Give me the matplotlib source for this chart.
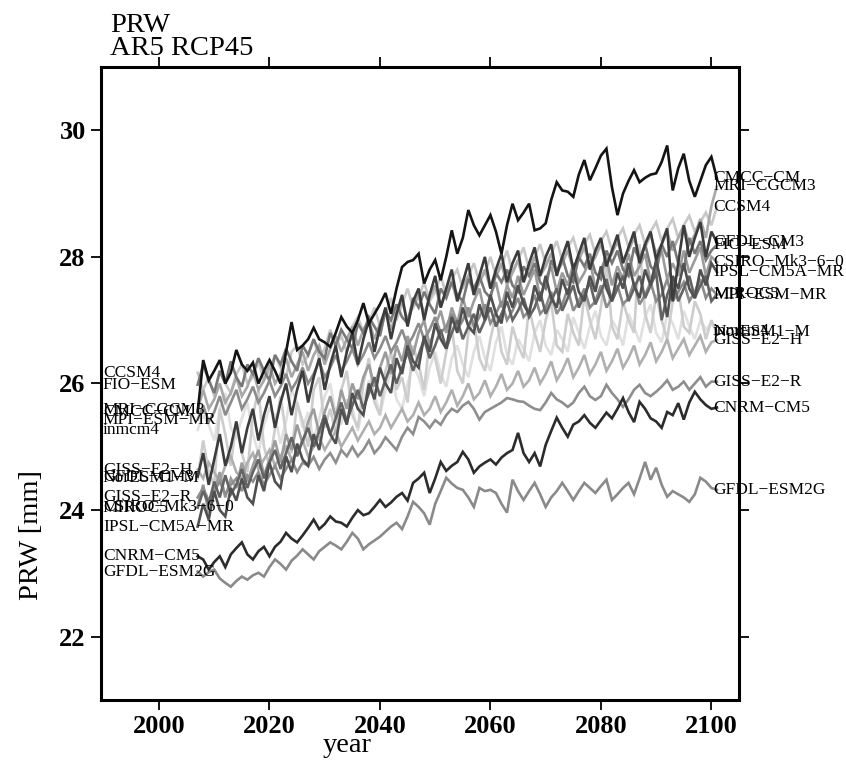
import numpy as np
import matplotlib
matplotlib.use("Agg")
import matplotlib.pyplot as plt

first_year = 2007

models = ["CMCC-CM", "MRI-CGCM3", "CCSM4", "GFDL-CM3", "FIO-ESM", "CSIRO-Mk3-6-0",
          "IPSL-CM5A-MR", "MIROC5", "MPI-ESM-MR", "inmcm4", "NorESM1-M", "GISS-E2-H",
          "GISS-E2-R", "CNRM-CM5", "GFDL-ESM2G"]

cmcc_cm = [25.55, 26.37, 26.05, 26.2, 26.37, 26.0, 26.17, 26.53, 26.3, 26.2,
           26.33, 26.0, 26.2, 26.37, 26.2, 26.0, 26.5, 26.97, 26.53, 26.6,
           26.7, 26.88, 26.7, 26.65, 26.58, 26.8, 27.05, 26.9, 26.8, 27.0,
           27.27, 26.95, 27.1, 27.25, 27.43, 27.1, 27.5, 27.84, 27.92, 27.95,
           28.05, 27.58, 27.8, 27.95, 27.63, 28.0, 28.42, 28.05, 28.3, 28.74,
           28.5, 28.34, 28.5, 28.66, 28.4, 28.05, 28.5, 28.84, 28.58, 28.7,
           28.84, 28.42, 28.45, 28.53, 28.9, 29.18, 29.05, 29.03, 28.95, 29.3,
           29.53, 29.21, 29.4, 29.6, 29.71, 29.1, 28.66, 29.0, 29.2, 29.37,
           29.18, 29.25, 29.3, 29.32, 29.5, 29.76, 29.05, 29.4, 29.63, 29.2,
           28.95, 29.2, 29.45, 29.58, 29.24]

mri_cgcm3 = [25.58, 25.9, 25.6, 25.75, 26.0, 25.7, 25.85, 26.1, 25.8, 25.95,
             26.2, 25.9, 26.05, 26.3, 26.0, 26.15, 26.4, 26.1, 26.3, 26.5,
             26.2, 26.45, 26.6, 26.3, 26.55, 26.75, 26.5, 26.7, 26.9, 26.6,
             26.85, 27.0, 26.7, 26.95, 27.15, 26.85, 27.1, 27.3, 27.0, 27.25,
             27.4, 27.1, 27.35, 27.55, 27.2, 27.45, 27.6, 27.3, 27.55, 27.7,
             27.4, 27.6, 27.8, 27.5, 27.7, 27.9, 27.55, 27.75, 27.95, 27.6,
             27.8, 28.0, 27.7, 27.85, 28.05, 27.75, 27.9, 28.1, 27.8, 27.95,
             28.15, 27.85, 28.0, 28.2, 27.9, 28.05, 28.25, 27.95, 28.1, 28.3,
             28.0, 28.15, 28.35, 28.05, 28.2, 28.4, 28.1, 28.3, 28.5, 28.2,
             28.35, 28.6, 28.3, 28.8, 29.12]

ccsm4 = [26.17, 25.9, 26.1, 25.8, 26.2, 26.0, 25.85, 26.15, 26.3, 26.0,
         26.1, 26.35, 26.05, 26.2, 26.45, 26.25, 26.1, 26.5, 26.6, 26.3,
         26.45, 26.7, 26.4, 26.55, 26.85, 26.6, 26.75, 26.5, 26.9, 27.05,
         26.8, 26.95, 27.2, 26.9, 27.1, 27.35, 27.0, 27.25, 27.5, 27.2,
         27.35, 27.6, 27.3, 27.45, 27.7, 27.4, 27.65, 27.8, 27.5, 27.7,
         27.9, 27.6, 27.75, 28.0, 27.7, 27.85, 28.1, 27.75, 27.95, 28.15,
         27.8, 28.0, 28.2, 27.9, 28.05, 28.25, 27.95, 28.15, 28.3, 28.0,
         28.2, 28.35, 28.05, 28.25, 28.4, 28.1, 28.3, 28.45, 28.15, 28.35,
         28.5, 28.2, 28.4, 28.55, 28.25, 28.45, 28.6, 28.3, 28.5, 28.65,
         28.4, 28.55, 28.7, 28.5, 28.79]

gfdl_cm3 = [24.53, 24.9, 24.4, 24.8, 25.2, 24.7, 25.0, 25.4, 24.9, 25.3,
            25.6, 25.1, 25.5, 25.8, 25.3, 25.7, 26.0, 25.5, 25.9, 26.2,
            25.7, 26.1, 26.4, 25.9, 26.3, 26.6, 26.1, 26.5, 26.8, 26.3,
            26.7, 27.0, 26.5, 26.9, 27.2, 26.7, 27.1, 27.4, 26.9, 27.3,
            27.5, 27.0, 27.4, 27.7, 27.2, 27.5, 27.8, 27.3, 27.6, 27.9,
            27.4, 27.7, 28.0, 27.5, 27.8, 28.05, 27.6, 27.9, 28.1, 27.6,
            27.9, 28.15, 27.7, 28.0, 28.2, 27.7, 28.0, 28.25, 27.8, 28.05,
            28.3, 27.8, 28.1, 28.3, 27.85, 28.1, 28.35, 27.9, 28.15, 28.4,
            27.9, 28.2, 28.4, 27.95, 28.2, 28.45, 27.3, 27.9, 28.5, 28.0,
            28.3, 28.55, 28.0, 28.4, 28.23]

fio_esm = [25.98, 26.3, 26.05, 25.85, 26.2, 26.0, 26.35, 26.1, 25.95, 26.3,
           26.15, 26.4, 26.2, 26.05, 26.45, 26.3, 26.55, 26.35, 26.2, 26.6,
           26.45, 26.7, 26.5, 26.4, 26.8, 26.6, 26.85, 26.7, 26.55, 26.95,
           26.8, 27.05, 26.9, 26.75, 27.15, 27.0, 27.25, 27.05, 26.95, 27.35,
           27.2, 27.45, 27.25, 27.1, 27.5, 27.35, 27.6, 27.4, 27.3, 27.65,
           27.5, 27.7, 27.45, 27.35, 27.75, 27.6, 27.8, 27.55, 27.45, 27.85,
           27.7, 27.9, 27.6, 27.5, 27.95, 27.75, 28.0, 27.7, 27.6, 28.0,
           27.85, 28.05, 27.75, 27.65, 28.1, 27.9, 28.1, 27.8, 27.7, 28.15,
           27.95, 28.2, 27.85, 27.75, 28.2, 28.0, 28.25, 27.9, 27.8, 28.3,
           28.05, 28.25, 27.95, 28.1, 28.19]

csiro_mk3 = [24.05, 24.4, 23.95, 24.3, 24.6, 24.2, 24.5, 24.35, 24.75, 24.45,
             24.7, 24.95, 24.55, 24.8, 25.1, 24.75, 25.2, 24.95, 25.35, 25.05,
             25.4, 25.6, 25.2, 25.55, 25.8, 25.45, 25.9, 25.6, 26.0, 25.75,
             26.1, 26.3, 25.95, 26.25, 26.5, 26.15, 26.6, 26.35, 26.75, 26.45,
             26.8, 27.0, 26.6, 26.9, 27.15, 26.8, 27.2, 26.95, 27.35, 27.05,
             27.3, 27.5, 27.1, 27.4, 27.6, 27.2, 27.55, 27.35, 27.7, 27.4,
             27.6, 27.8, 27.35, 27.65, 27.85, 27.45, 27.75, 27.55, 27.9, 27.6,
             27.75, 27.95, 27.5, 27.8, 28.0, 27.55, 27.85, 27.65, 28.05, 27.7,
             27.85, 28.05, 27.6, 27.9, 28.1, 27.65, 27.9, 27.7, 28.1, 27.75,
             27.95, 28.15, 27.7, 28.0, 27.92]

ipsl_cm5a_mr = [23.74, 24.1, 23.85, 24.3, 24.0, 23.9, 24.35, 24.15, 24.5, 24.2,
                24.1, 24.55, 24.3, 24.75, 24.45, 24.35, 24.85, 24.6, 25.05, 24.8,
                24.7, 25.2, 24.95, 25.45, 25.2, 25.05, 25.6, 25.35, 25.85, 25.6,
                25.5, 26.0, 25.75, 26.25, 26.0, 25.85, 26.4, 26.15, 26.6, 26.35,
                26.25, 26.75, 26.5, 26.95, 26.7, 26.55, 27.05, 26.8, 27.2, 26.9,
                26.8, 27.25, 27.0, 27.4, 27.1, 26.95, 27.45, 27.2, 27.55, 27.25,
                27.1, 27.55, 27.3, 27.7, 27.35, 27.2, 27.65, 27.4, 27.8, 27.45,
                27.3, 27.7, 27.45, 27.85, 27.5, 27.3, 27.75, 27.5, 27.9, 27.55,
                27.35, 27.8, 27.55, 27.95, 27.55, 27.05, 27.7, 27.5, 27.9, 27.5,
                27.35, 27.8, 27.55, 27.9, 27.76]

miroc5 = [24.04, 24.3, 24.1, 24.45, 24.2, 24.55, 24.25, 24.4, 24.65, 24.35,
          24.6, 24.8, 24.5, 24.75, 24.95, 24.65, 24.9, 25.15, 24.85, 25.1,
          25.3, 25.0, 25.25, 25.5, 25.2, 25.45, 25.7, 25.4, 25.65, 25.9,
          25.6, 25.85, 26.1, 25.8, 26.05, 26.3, 26.0, 26.25, 26.5, 26.2,
          26.45, 26.7, 26.4, 26.6, 26.85, 26.55, 26.8, 27.0, 26.7, 26.9,
          27.1, 26.8, 27.0, 27.2, 26.9, 27.1, 27.3, 27.0, 27.15, 27.35,
          27.05, 27.2, 27.45, 27.1, 27.3, 27.5, 27.15, 27.35, 27.55, 27.2,
          27.4, 27.6, 27.25, 27.45, 27.65, 27.3, 27.5, 27.7, 27.3, 27.5,
          27.7, 27.35, 27.55, 27.75, 27.0, 27.4, 27.65, 27.3, 27.5, 27.7,
          27.35, 27.55, 27.7, 27.3, 27.41]

mpi_esm_mr = [25.43, 25.65, 25.4, 25.55, 25.8, 25.5, 25.7, 25.9, 25.6, 25.75,
              25.95, 25.7, 25.85, 26.05, 25.8, 25.95, 26.15, 25.9, 26.05, 26.25,
              26.0, 26.15, 26.35, 26.1, 26.25, 26.45, 26.2, 26.35, 26.55, 26.3,
              26.45, 26.65, 26.4, 26.55, 26.75, 26.5, 26.65, 26.85, 26.6, 26.75,
              26.95, 26.7, 26.85, 27.05, 26.8, 26.9, 27.1, 26.85, 27.0, 27.2,
              26.9, 27.05, 27.25, 26.95, 27.1, 27.3, 27.0, 27.15, 27.35, 27.05,
              27.15, 27.4, 27.1, 27.2, 27.45, 27.1, 27.25, 27.5, 27.15, 27.3,
              27.5, 27.2, 27.3, 27.55, 27.2, 27.35, 27.55, 27.25, 27.35, 27.6,
              27.25, 27.4, 27.6, 27.3, 27.4, 27.65, 27.3, 27.45, 27.6, 27.3,
              27.45, 27.65, 27.35, 27.5, 27.4]

inmcm4 = [25.27, 25.5, 25.35, 25.1, 25.6, 25.85, 25.3, 25.15, 25.45, 25.7,
          25.2, 24.9, 25.35, 25.6, 25.5, 25.05, 25.4, 25.9, 25.7, 25.3,
          25.55, 25.1, 25.45, 25.8, 26.0, 25.5, 25.35, 25.75, 25.6, 25.25,
          25.7, 26.05, 25.85, 25.5, 25.9, 26.2, 25.75, 25.6, 26.0, 26.3,
          26.1, 25.8, 26.25, 26.5, 26.15, 25.95, 26.4, 26.6, 26.3, 26.1,
          26.5, 26.75, 26.4, 26.2, 26.65, 26.9, 26.45, 26.3, 26.7, 26.55,
          26.35, 26.8, 27.0, 26.6, 26.45, 26.85, 26.7, 26.5, 27.05, 26.8,
          26.55, 26.9, 27.15, 26.75, 26.6, 27.0, 26.85, 26.6, 27.1, 26.9,
          26.65, 27.05, 27.25, 26.8, 26.65, 27.1, 26.95, 26.7, 27.15, 26.9,
          26.7, 27.0, 26.85, 26.95, 26.83]

noresm1_m = [24.5, 25.1, 24.6, 24.4, 25.6, 25.2, 24.7, 25.4, 24.9, 24.6,
             25.5, 25.9, 25.0, 24.7, 25.3, 25.8, 25.2, 24.9, 25.7, 25.4,
             25.0, 25.9, 26.1, 25.3, 25.6, 25.2, 25.9, 26.2, 25.5, 25.3,
             26.0, 26.4, 25.7, 25.5, 26.2, 26.5, 25.9, 26.1, 25.7, 26.6,
             26.3, 25.9, 26.7, 26.4, 26.0, 26.5, 26.9, 26.2, 26.0, 26.8,
             27.0, 26.4, 26.2, 26.7, 27.1, 26.5, 26.3, 26.9, 26.6, 26.4,
             27.2, 26.8, 26.5, 27.0, 27.3, 26.6, 26.5, 27.1, 26.8, 26.6,
             27.4, 27.0, 26.7, 27.2, 27.9, 26.9, 26.7, 27.3, 27.0, 26.8,
             28.2, 27.1, 26.8, 27.4, 27.0, 26.7, 27.3, 27.5, 26.9, 26.8,
             27.3, 27.1, 26.7, 27.0, 26.81]

giss_e2_h = [24.64, 24.5, 24.75, 24.6, 24.45, 24.7, 24.85, 24.6, 24.5, 24.75,
             24.9, 24.65, 24.8, 24.95, 24.7, 24.85, 25.0, 24.8, 24.9, 25.1,
             24.85, 25.0, 25.15, 24.95, 25.1, 25.25, 25.0, 25.15, 25.3, 25.1,
             25.25, 25.4, 25.2, 25.3, 25.5, 25.3, 25.45, 25.6, 25.4, 25.5,
             25.7, 25.5, 25.6, 25.8, 25.55, 25.7, 25.9, 25.65, 25.8, 26.0,
             25.75, 25.85, 26.05, 25.8, 25.95, 26.15, 25.9, 26.0, 26.2, 25.95,
             26.05, 26.25, 26.0, 26.15, 26.35, 26.05, 26.2, 26.4, 26.1, 26.25,
             26.45, 26.15, 26.3, 26.5, 26.2, 26.35, 26.55, 26.25, 26.4, 26.6,
             26.3, 26.45, 26.65, 26.35, 26.5, 26.7, 26.4, 26.55, 26.7, 26.45,
             26.6, 26.75, 26.5, 26.65, 26.69]

giss_e2_r = [24.2, 24.35, 24.15, 24.3, 24.45, 24.25, 24.4, 24.5, 24.3, 24.55,
             24.45, 24.6, 24.4, 24.55, 24.7, 24.5, 24.65, 24.8, 24.6, 24.75,
             24.7, 24.84, 24.65, 24.8, 24.9, 24.75, 24.95, 24.85, 25.0, 24.85,
             24.95, 25.1, 24.9, 25.0, 25.15, 25.05, 24.95, 25.16, 25.3, 25.2,
             25.47, 25.4, 25.3, 25.42, 25.35, 25.5, 25.6, 25.55, 25.65, 25.71,
             25.6, 25.43, 25.55, 25.6, 25.65, 25.7, 25.77, 25.75, 25.72, 25.71,
             25.65, 25.6, 25.58, 25.7, 25.85, 25.75, 25.7, 25.63, 25.7, 25.85,
             25.95, 25.8, 25.74, 25.8, 25.98, 25.85, 25.75, 25.63, 25.75, 25.9,
             25.98, 25.85, 25.8, 25.87, 25.95, 26.05, 25.9, 25.95, 26.03, 25.9,
             26.0, 26.1, 25.95, 26.03, 26.03]

cnrm_cm5 = [23.27, 23.22, 23.06, 23.18, 23.27, 23.1, 23.3, 23.4, 23.49, 23.3,
            23.22, 23.35, 23.42, 23.27, 23.42, 23.5, 23.64, 23.55, 23.49, 23.6,
            23.72, 23.85, 23.7, 23.78, 23.9, 23.82, 23.8, 23.74, 23.88, 24.0,
            23.92, 23.95, 24.05, 24.16, 24.05, 24.12, 24.21, 24.27, 24.15, 24.43,
            24.5, 24.59, 24.27, 24.5, 24.76, 24.62, 24.7, 24.76, 24.92, 24.8,
            24.59, 24.69, 24.75, 24.8, 24.72, 24.83, 24.9, 24.95, 25.22, 24.9,
            24.76, 24.9, 24.69, 25.03, 25.25, 25.46, 25.3, 25.16, 25.35, 25.4,
            25.5, 25.38, 25.3, 25.42, 25.54, 25.45, 25.6, 25.77, 25.55, 25.39,
            25.71, 25.6, 25.45, 25.4, 25.3, 25.55, 25.5, 25.69, 25.43, 25.7,
            25.87, 25.75, 25.66, 25.6, 25.62]

gfdl_esm2g = [23.03, 22.95, 23.02, 23.06, 22.92, 22.85, 22.79, 22.88, 22.95, 22.9,
              22.97, 23.01, 22.95, 23.1, 23.22, 23.15, 23.06, 23.2, 23.28, 23.38,
              23.3, 23.22, 23.35, 23.42, 23.49, 23.44, 23.38, 23.5, 23.64, 23.55,
              23.38, 23.46, 23.52, 23.58, 23.66, 23.74, 23.8, 23.7, 23.9, 24.13,
              24.05, 23.95, 23.77, 24.1, 24.3, 24.51, 24.42, 24.35, 24.32, 24.2,
              24.05, 24.35, 24.3, 24.32, 24.27, 24.1, 23.96, 24.48, 24.3, 24.16,
              24.3, 24.43, 24.25, 24.05, 24.2, 24.3, 24.43, 24.3, 24.16, 24.3,
              24.43, 24.35, 24.27, 24.38, 24.48, 24.16, 24.25, 24.35, 24.43, 24.25,
              24.5, 24.76, 24.48, 24.67, 24.4, 24.21, 24.3, 24.25, 24.2, 24.13,
              24.25, 24.51, 24.45, 24.35, 24.32]

series = [cmcc_cm, mri_cgcm3, ccsm4, gfdl_cm3, fio_esm, csiro_mk3, ipsl_cm5a_mr,
          miroc5, mpi_esm_mr, inmcm4, noresm1_m, giss_e2_h, giss_e2_r, cnrm_cm5,
          gfdl_esm2g]

colors = ["#141414", "#a8a8a8", "#c8c8c8", "#3c3c3c", "#787878", "#9c9c9c",
          "#505050", "#646464", "#8c8c8c", "#e0e0e0", "#cdcdcd", "#b0b0b0",
          "#8e8e8e", "#2c2c2c", "#8a8a8a"]

x_ticks = [2000, 2020, 2040, 2060, 2080, 2100]
y_ticks = [22, 24, 26, 28, 30]

SERIF = ["Liberation Serif", "DejaVu Serif"]
plt.rcParams["font.family"] = SERIF

fig = plt.figure(figsize=(8.46, 7.6), dpi=100)
ax = fig.add_axes([101 / 846, 1 - 700 / 760, (739 - 101) / 846, (700 - 67) / 760])


def lum(c):
    return int(c[1:3], 16)


order = sorted(range(len(models)), key=lambda i: -lum(colors[i]))
for i in order:
    vals = np.asarray(series[i], dtype=float)
    yrs = first_year + np.arange(len(vals))
    ax.plot(yrs, vals, color=colors[i], lw=1.9, solid_joinstyle="miter", zorder=2)

for i, name in enumerate(models):
    vals = series[i]
    shown = name.replace("-", "\u2212")
    ax.text(0.003, vals[0], shown, transform=ax.get_yaxis_transform(),
            fontsize=12.5, va="center", ha="left", color="black", zorder=3,
            family=SERIF)
    ax.text(2100.3, vals[-1], shown, fontsize=12.5, va="center", ha="left",
            color="black", zorder=3, family=SERIF, clip_on=False)

ax.set_xlim(1989.5, 2105)
ax.set_ylim(21, 31)
ax.set_xticks(x_ticks)
ax.set_yticks(y_ticks)
ax.tick_params(axis="both", which="both", direction="out", length=7, width=1.3,
               top=True, right=True, labeltop=False, labelright=False,
               labelsize=19, pad=4)
for lab in ax.get_xticklabels() + ax.get_yticklabels():
    lab.set_fontweight("bold")
for sp in ax.spines.values():
    sp.set_linewidth(2.2)

fig.text(347 / 846, 1 - 752 / 760, "year", fontsize=20.5, ha="center", va="baseline")
fig.text(32 / 846, 1 - 535 / 760, "PRW [mm]", fontsize=20.5, rotation=90,
         ha="center", va="center")
fig.text(110 / 846, 1 - 32 / 760, "PRW", fontsize=20.5, ha="left", va="baseline")
fig.text(110 / 846, 1 - 55 / 760, "AR5 RCP45", fontsize=20.5, ha="left", va="baseline")

fig.savefig("out.png", dpi=100)
